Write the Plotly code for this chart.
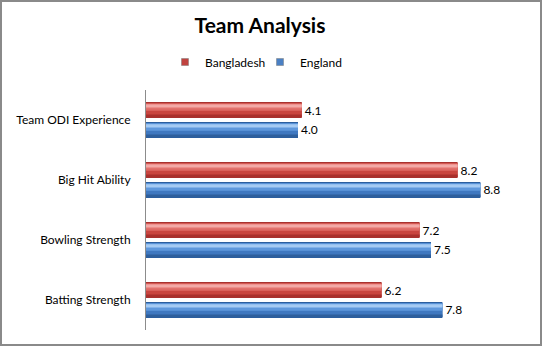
import plotly.graph_objects as go

# Data (bottom-to-top order of the category axis)
categories = ["Batting Strength", "Bowling Strength", "Big Hit Ability", "Team ODI Experience"]
bangladesh = [6.2, 7.2, 8.2, 4.1]
england = [7.8, 7.5, 8.8, 4.0]
series_names = ["Bangladesh", "England"]

W, H = 543, 347
ML, MR, MT, MB = 146, 17, 90, 17
X_MAX = 10

BAR_W = 0.265      # bar thickness in category units
GAP = 0.033        # half gap between the two bars in a group

# glossy stripes: (from top fraction, to top fraction, colour)
red_stripes = [
    (0.00, 1.00, "#A8312E"),
    (0.06, 0.94, "#C9453F"),
    (0.08, 0.55, "#DE6A65"),
    (0.12, 0.38, "#EC8D89"),
    (0.16, 0.28, "#F3A9A6"),
    (0.78, 0.94, "#A9302C"),
]
blue_stripes = [
    (0.00, 1.00, "#2B5E9E"),
    (0.06, 0.94, "#3F78C0"),
    (0.08, 0.55, "#5F98DC"),
    (0.12, 0.38, "#82B2EA"),
    (0.16, 0.28, "#A6CBF3"),
    (0.78, 0.94, "#2E5F9C"),
]

fig = go.Figure()


def add_bar(values, name, stripes, top):
    for i, (a, b, color) in enumerate(stripes):
        first = i == 0
        fig.add_trace(go.Bar(
            x=values,
            y=categories,
            orientation="h",
            name=name,
            offset=top - b * BAR_W,
            width=(b - a) * BAR_W,
            marker=dict(color=color, line=dict(width=0)),
            text=values if first else None,
            texttemplate="%{x:.1f}" if first else None,
            textposition="outside" if first else "none",
            textfont=dict(size=12, color="#000000", family="Lato"),
            constraintext="none",
            cliponaxis=False,
            showlegend=False,
            hoverinfo="skip",
        ))


add_bar(bangladesh, "Bangladesh", red_stripes, GAP + BAR_W)
add_bar(england, "England", blue_stripes, -GAP)

# legend swatches
for name, color in zip(series_names, ["#C0433F", "#4A80C4"]):
    fig.add_trace(go.Scatter(
        x=[None], y=[None], mode="markers", name=name,
        marker=dict(symbol="square", size=7, color=color,
                    line=dict(width=0.5, color="#7A7A7A")),
        hoverinfo="skip",
    ))

pw = W - ML - MR
ph = H - MT - MB

fig.update_layout(
    width=W, height=H,
    margin=dict(l=ML, r=MR, t=MT, b=MB),
    paper_bgcolor="white",
    plot_bgcolor="white",
    barmode="overlay",
    font=dict(family="Lato", size=12, color="#000000"),
    title=dict(
        text="<b>Team Analysis</b>",
        font=dict(size=21, family="Lato", color="#000000"),
        x=260 / W, xref="container", xanchor="center",
        y=1 - 26 / H, yref="container", yanchor="middle",
    ),
    legend=dict(
        orientation="h",
        x=165 / W, xref="container", xanchor="left",
        y=1 - 62 / H, yref="container", yanchor="middle",
        font=dict(size=12, family="Lato"),
        itemwidth=30,
        entrywidth=50,
        entrywidthmode="pixels",
        traceorder="normal",
    ),
    xaxis=dict(
        range=[0, X_MAX], visible=False, showgrid=False, zeroline=False,
    ),
    yaxis=dict(
        type="category",
        categoryorder="array", categoryarray=categories,
        showline=True, linecolor="#8C8C8C", linewidth=1,
        ticks="", showgrid=False, zeroline=False,
        ticklabelstandoff=12,
        tickfont=dict(size=12, family="Lato", color="#000000"),
    ),
    shapes=[dict(
        type="rect", xref="paper", yref="paper",
        x0=(1 - ML) / pw, x1=(541 - ML) / pw,
        y0=(H - MB - 345) / ph, y1=(H - MB - 1) / ph,
        line=dict(color="#8A8A8A", width=2), fillcolor="rgba(0,0,0,0)",
        layer="below",
    )],
)

fig.write_html("out.html")
